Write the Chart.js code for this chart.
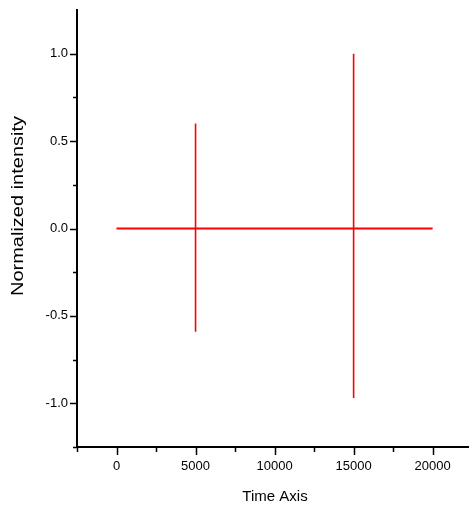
<!DOCTYPE html>
<html>
<head>
<meta charset="utf-8">
<script src="https://cdn.jsdelivr.net/npm/chart.js@4"></script>
<style>
  html, body { margin: 0; padding: 0; background: #fff; overflow: hidden; }
  canvas { display: block; }
</style>
</head>
<body>
<canvas id="c" width="469" height="512"></canvas>
<script>
// ---- data ----
const baseX = [0, 20000];
const baseY = [0, 0];
const spikeX = [5000, 15000];
const spikeTop = [0.6, 1.0];
const spikeBottom = [-0.59, -0.97];

// ---- tick labels ----
const xTickValues = [0, 5000, 10000, 15000, 20000];
const xMinorTicks = [-2500, 2500, 7500, 12500, 17500, 22500];
const yTickValues = [-1.0, -0.5, 0.0, 0.5, 1.0];
const yMinorTicks = [-1.25, -0.75, -0.25, 0.25, 0.75];

const xTitle = 'Time Axis';
const yTitle = 'Normalized intensity';

const FONT = "'Liberation Sans', Arial, sans-serif";

const baseData = baseX.map((x, i) => ({ x: x, y: baseY[i] }));
const spikeData = [];
spikeX.forEach((x, i) => {
  spikeData.push({ x: x, y: spikeTop[i] });
  spikeData.push({ x: x, y: spikeBottom[i] });
  spikeData.push({ x: x, y: null });
});

const tickPlugin = {
  id: 'tickMarks',
  afterDraw(chart) {
    const ctx = chart.ctx;
    const xs = chart.scales.x, ys = chart.scales.y;
    const area = chart.chartArea;
    ctx.save();
    ctx.strokeStyle = '#000';
    ctx.lineWidth = 1.5;
    ctx.beginPath();
    xTickValues.forEach(v => {
      const px = Math.round(xs.getPixelForValue(v)) + 0.5;
      ctx.moveTo(px, area.bottom); ctx.lineTo(px, area.bottom + 8);
    });
    xMinorTicks.forEach(v => {
      const px = Math.round(xs.getPixelForValue(v)) + 0.5;
      if (px > chart.width) return;
      ctx.moveTo(px, area.bottom); ctx.lineTo(px, area.bottom + 5);
    });
    yTickValues.forEach(v => {
      const py = Math.round(ys.getPixelForValue(v)) + 0.5;
      ctx.moveTo(area.left, py); ctx.lineTo(area.left - 7, py);
    });
    yMinorTicks.forEach(v => {
      const py = Math.round(ys.getPixelForValue(v)) + 0.5;
      ctx.moveTo(area.left, py); ctx.lineTo(area.left - 4, py);
    });
    ctx.stroke();

    // axis titles
    ctx.fillStyle = '#000';
    ctx.font = '15px ' + FONT;
    ctx.textAlign = 'center';
    ctx.textBaseline = 'middle';
    ctx.fillText(xTitle, 275, 497);

    ctx.translate(19, 206);
    ctx.rotate(-Math.PI / 2);
    ctx.scale(1.25, 1);
    ctx.font = '16px ' + FONT;
    ctx.fillText(yTitle, 0, 0);
    ctx.restore();
  }
};

new Chart(document.getElementById('c'), {
  type: 'scatter',
  data: {
    datasets: [
      {
        data: baseData,
        showLine: true,
        borderColor: '#ff0000',
        borderWidth: 2,
        pointRadius: 0,
        fill: false
      },
      {
        data: spikeData,
        showLine: true,
        spanGaps: false,
        borderColor: '#ff0000',
        borderWidth: 1.6,
        pointRadius: 0,
        fill: false
      }
    ]
  },
  options: {
    responsive: false,
    animation: false,
    devicePixelRatio: 1,
    layout: { padding: { top: 10, left: 0, right: 0, bottom: 0 } },
    plugins: { legend: { display: false }, tooltip: { enabled: false } },
    scales: {
      x: {
        type: 'linear',
        min: -2500,
        max: 22300,
        grid: { display: false, drawTicks: false },
        border: { display: true, color: '#000', width: 2 },
        afterBuildTicks: s => { s.ticks = xTickValues.map(v => ({ value: v })); },
        afterFit: s => { s.height = 65; s.paddingLeft = 0; s.paddingRight = 0; },
        ticks: {
          padding: 12,
          color: '#000',
          font: { family: FONT, size: 13 },
          maxRotation: 0,
          autoSkip: false,
          callback: v => String(v)
        }
      },
      y: {
        type: 'linear',
        min: -1.25,
        max: 1.25,
        grid: { display: false, drawTicks: false },
        border: { display: true, color: '#000', width: 2 },
        afterBuildTicks: s => { s.ticks = yTickValues.map(v => ({ value: v })); },
        afterFit: s => { s.width = 77; s.paddingTop = 0; s.paddingBottom = 0; },
        ticks: {
          padding: 9,
          color: '#000',
          font: { family: FONT, size: 13 },
          autoSkip: false,
          callback: v => Number(v).toFixed(1)
        }
      }
    }
  },
  plugins: [tickPlugin]
});
</script>
</body>
</html>
